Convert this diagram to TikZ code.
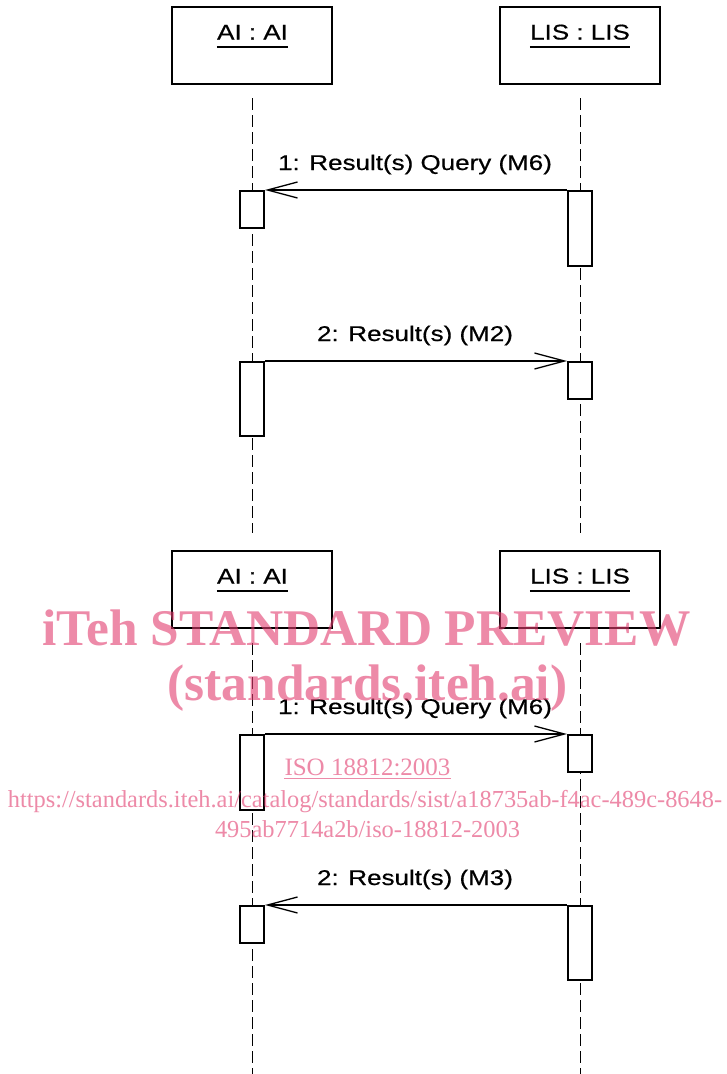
\documentclass[tikz,border=0pt]{standalone}
\usepackage{fontspec}
\setmainfont{Liberation Sans}
\newfontfamily\diagfont{Liberation Sans}[FakeBold=0.5]
\newfontfamily\wmfont{Liberation Serif}
\usetikzlibrary{arrows.meta}
\definecolor{wmpink}{RGB}{226,60,110}
\newcommand{\sx}[1]{\scalebox{1.22}[1]{#1}}
\begin{document}
\begin{tikzpicture}[x=1pt,y=-1pt,
  objbox/.style={draw, line width=2pt, minimum width=160pt, minimum height=77pt, inner sep=0pt},
  actbox/.style={draw, fill=white, line width=2pt, minimum width=24pt, inner sep=0pt},
  lifeline/.style={line width=1pt, dash pattern=on 12pt off 5pt},
  msg/.style={line width=1.3pt, -{Straight Barb[length=30pt,width=16pt,line width=1.3pt]}},
  lbl/.style={font=\diagfont\fontsize{21.3}{25}\selectfont, inner sep=0pt, anchor=base},
  ulstyle/.style={line width=1.6pt},
  wm/.style={text=wmpink, text opacity=0.6, inner sep=0pt, anchor=base},
  wmbig/.style={wm, font=\wmfont\bfseries\fontsize{51.4}{56}\selectfont},
  wmsmall/.style={wm, font=\wmfont\fontsize{24.4}{28}\selectfont}
]
\useasboundingbox (0,0) rectangle (727,1074);
\fill[white] (0,0) rectangle (727,1074);

% ---------- top diagram ----------
\node[objbox] (ai1) at (252,45.5) {};
\node[objbox] (lis1) at (580,45.5) {};
\node[lbl] (ai1t) at (252.5,39.5) {\sx{AI : AI}};
\node[lbl] (lis1t) at (580,39.5) {\sx{LIS : LIS}};
\draw[ulstyle] ([yshift=-7.5pt]ai1t.base west) -- ([yshift=-7.5pt]ai1t.base east);
\draw[ulstyle] ([yshift=-7.5pt]lis1t.base west) -- ([yshift=-7.5pt]lis1t.base east);

\coordinate (ai1end) at (252,533);
\coordinate (lis1end) at (580,533);
\draw[lifeline] ([yshift=-13pt]ai1.south) -- (ai1end);
\draw[lifeline] ([yshift=-13pt]lis1.south) -- (lis1end);

\node[actbox, minimum height=37pt] (aa1) at (252,209.5) {};
\node[actbox, minimum height=75pt] (la1) at (580,228.5) {};
\node[actbox, minimum height=74pt] (aa2) at (252,399) {};
\node[actbox, minimum height=37pt] (la2) at (580,380.5) {};

\draw[msg] (la1.north west) -- (aa1.north east);
\draw[msg] (aa2.north east) -- (la2.north west);
\node[lbl] (m1) at (415,170) {\sx{1: Result(s) Query (M6)}};
\node[lbl] (m2) at (415,341) {\sx{2: Result(s) (M2)}};

% ---------- bottom diagram ----------
\node[objbox] (ai2) at (252,589.5) {};
\node[objbox] (lis2) at (580,589.5) {};
\node[lbl] (ai2t) at (252.5,583.5) {\sx{AI : AI}};
\node[lbl] (lis2t) at (580,583.5) {\sx{LIS : LIS}};
\draw[ulstyle] ([yshift=-7.5pt]ai2t.base west) -- ([yshift=-7.5pt]ai2t.base east);
\draw[ulstyle] ([yshift=-7.5pt]lis2t.base west) -- ([yshift=-7.5pt]lis2t.base east);

\coordinate (ai2end) at (252,1074);
\coordinate (lis2end) at (580,1074);
\draw[lifeline] ([yshift=-14pt]ai2.south) -- (ai2end);
\draw[lifeline] ([yshift=-14pt]lis2.south) -- (lis2end);

\node[actbox, minimum height=75pt] (aa3) at (252,772.5) {};
\node[actbox, minimum height=37pt] (la3) at (580,753.5) {};
\node[actbox, minimum height=37pt] (aa4) at (252,924.5) {};
\node[actbox, minimum height=74pt] (la4) at (580,943) {};

\draw[msg] (aa3.north east) -- (la3.north west);
\draw[msg] (la4.north west) -- (aa4.north east);
\node[lbl] (m3) at (415,714) {\sx{1: Result(s) Query (M6)}};
\node[lbl] (m4) at (415,885) {\sx{2: Result(s) (M3)}};

% ---------- watermark ----------
\node[wmbig] (w1) at (366.5,645) {iTeh STANDARD PREVIEW};
\node[wmbig] (w2) at (367.5,700) {(standards.iteh.ai)};
\node[wm, font=\wmfont\fontsize{25}{29}\selectfont] (w3) at (367.5,775) {ISO 18812:2003};
\draw[wmpink, draw opacity=0.6, line width=1.2pt] ([yshift=-3.5pt]w3.base west) -- ([yshift=-3.5pt]w3.base east);
\node[wmsmall] (w4) at (365,807) {https://standards.iteh.ai/catalog/standards/sist/a18735ab-f4ac-489c-8648-};
\node[wmsmall] (w5) at (367.5,837) {495ab7714a2b/iso-18812-2003};
\end{tikzpicture}
\end{document}
